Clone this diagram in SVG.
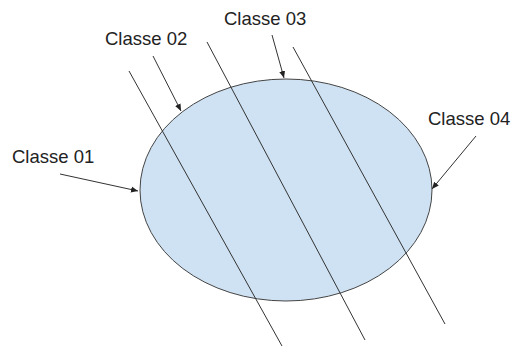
<svg xmlns="http://www.w3.org/2000/svg" width="513" height="347" viewBox="0 0 513 347">
<defs>
<style>
.lbl{font-family:"Liberation Sans",Arial,sans-serif;font-size:18.5px;fill:#222}
.ln{stroke:#333;stroke-width:1;fill:none}
.arr{stroke:#333;stroke-width:1;fill:none;marker-end:url(#ah)}
</style>
<marker id="ah" markerUnits="userSpaceOnUse" markerWidth="8" markerHeight="8" viewBox="0 0 8 8" refX="7" refY="4" orient="auto">
<path d="M0,1 L7,4 L0,7 Z" fill="#222"/>
</marker>
</defs>
<rect width="513" height="347" fill="#fff"/>
<g id="ellipse">
<ellipse cx="286" cy="190" rx="146" ry="111" fill="#cfe2f3" stroke="#444" stroke-width="1"/>
</g>
<g id="connectors">
<line class="ln" x1="129" y1="71" x2="282" y2="346"/>
<line class="ln" x1="207" y1="42" x2="365" y2="340"/>
<line class="ln" x1="293" y1="47" x2="445" y2="324"/>
<line class="arr" x1="60" y1="174" x2="138" y2="191"/>
<line class="arr" x1="153" y1="56" x2="181" y2="111"/>
<line class="arr" x1="272" y1="35" x2="284" y2="78"/>
<line class="arr" x1="476" y1="136" x2="432" y2="189"/>
</g>
<g id="classe01"><text class="lbl" x="12" y="163">Classe 01</text></g>
<g id="classe02"><text class="lbl" x="105" y="45">Classe 02</text></g>
<g id="classe03"><text class="lbl" x="224" y="25">Classe 03</text></g>
<g id="classe04"><text class="lbl" x="428" y="125">Classe 04</text></g>
</svg>
